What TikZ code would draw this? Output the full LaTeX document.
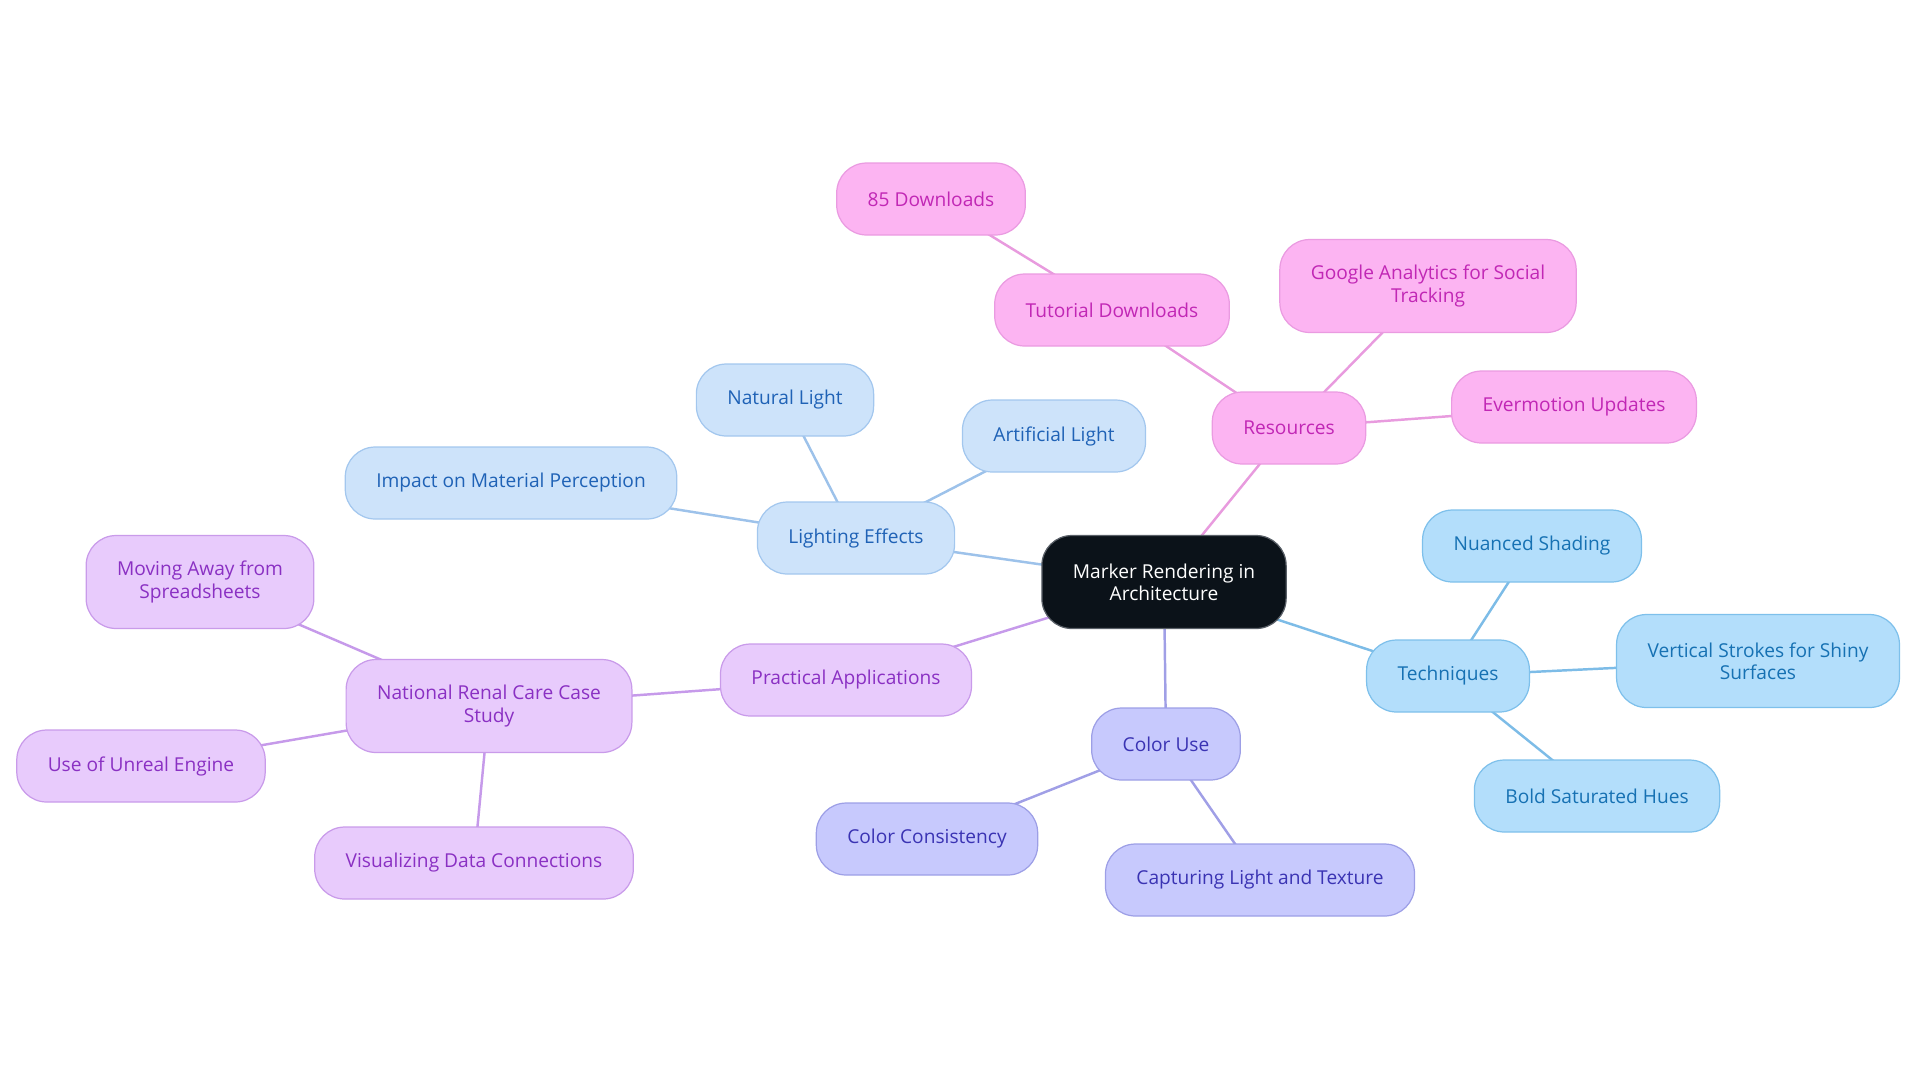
\documentclass[tikz,border=0pt]{standalone}
\usepackage{fontspec}
\setmainfont{Open Sans}
\usepackage{xcolor}
\usetikzlibrary{backgrounds}

% colour sets of the branches
\definecolor{rootF}{HTML}{0B1219}
\definecolor{rootD}{HTML}{5A6068}
\definecolor{pinkF}{HTML}{FCB4F2}
\definecolor{pinkD}{HTML}{EA9BE1}
\definecolor{pinkT}{HTML}{C127B5}
\definecolor{pinkL}{HTML}{E89BDE}
\definecolor{paleF}{HTML}{CDE3FA}
\definecolor{paleD}{HTML}{A3C7EE}
\definecolor{paleT}{HTML}{1F62B6}
\definecolor{paleL}{HTML}{9DC2EA}
\definecolor{skyF}{HTML}{B3DEFB}
\definecolor{skyD}{HTML}{7EC0EB}
\definecolor{skyT}{HTML}{1671B3}
\definecolor{skyL}{HTML}{7DBCE7}
\definecolor{lavF}{HTML}{C7C9FD}
\definecolor{lavD}{HTML}{9D9FE6}
\definecolor{lavT}{HTML}{3A33B3}
\definecolor{lavL}{HTML}{A09FE6}
\definecolor{violF}{HTML}{E8CBFC}
\definecolor{violD}{HTML}{C99BEA}
\definecolor{violT}{HTML}{8A30C3}
\definecolor{violL}{HTML}{C69AEA}

\tikzset{
  mapnode/.style={rounded corners=0.6cm, minimum height=1.44cm, inner xsep=0.62cm,
    align=center, font=\fontsize{10.9}{12.6}\selectfont, line width=0.7pt},
  twoline/.style={minimum height=1.86cm},
  rootnode/.style={mapnode, fill=rootF, draw=rootD, text=white},
  pinknode/.style={mapnode, fill=pinkF, draw=pinkD, text=pinkT},
  palenode/.style={mapnode, fill=paleF, draw=paleD, text=paleT},
  skynode/.style={mapnode, fill=skyF, draw=skyD, text=skyT},
  lavnode/.style={mapnode, fill=lavF, draw=lavD, text=lavT},
  violnode/.style={mapnode, fill=violF, draw=violD, text=violT},
  link/.style={line width=1.4pt}
}

\begin{document}
\begin{tikzpicture}[x=0.02cm, y=-0.02cm]
  \useasboundingbox (0,0) rectangle (1920,1083);

  % ── centre ──
  \node[rootnode, twoline] (root) at (1164,582) {Marker Rendering in\\Architecture};

  % ── Resources branch ──
  \node[pinknode] (res)   at (1289,428) {Resources};
  \node[pinknode] (tut)   at (1112,310) {Tutorial Downloads};
  \node[pinknode] (dl)    at (931,199)  {85 Downloads};
  \node[pinknode, twoline] (ga) at (1428,286) {Google Analytics for Social\\Tracking};
  \node[pinknode] (ever)  at (1574,407) {Evermotion Updates};

  % ── Lighting branch ──
  \node[palenode] (light) at (856,538)  {Lighting Effects};
  \node[palenode] (nat)   at (785,400)  {Natural Light};
  \node[palenode] (art)   at (1054,436) {Artificial Light};
  \node[palenode] (imp)   at (511,483)  {Impact on Material Perception};

  % ── Techniques branch ──
  \node[skynode] (tech)   at (1448,676) {Techniques};
  \node[skynode] (shade)  at (1532,546) {Nuanced Shading};
  \node[skynode, twoline] (vert) at (1758,661) {Vertical Strokes for Shiny\\Surfaces};
  \node[skynode] (bold)   at (1597,796) {Bold Saturated Hues};

  % ── Colour branch ──
  \node[lavnode] (col)    at (1166,744) {Color Use};
  \node[lavnode] (cons)   at (927,839)  {Color Consistency};
  \node[lavnode] (capt)   at (1260,880) {Capturing Light and Texture};

  % ── Applications branch ──
  \node[violnode] (prac)  at (846,680)  {Practical Applications};
  \node[violnode, twoline] (renal) at (489,706) {National Renal Care Case\\Study};
  \node[violnode, twoline] (move)  at (200,582) {Moving Away from\\Spreadsheets};
  \node[violnode] (unreal) at (141,766) {Use of Unreal Engine};
  \node[violnode] (vis)   at (474,863)  {Visualizing Data Connections};

  % links behind the boxes
  \begin{pgfonlayer}{background}
    \foreach \a/\b/\c in {root/res/pinkL, res/tut/pinkL, tut/dl/pinkL, res/ga/pinkL, res/ever/pinkL,
        root/light/paleL, light/nat/paleL, light/art/paleL, light/imp/paleL,
        root/tech/skyL, tech/shade/skyL, tech/vert/skyL, tech/bold/skyL,
        root/col/lavL, col/cons/lavL, col/capt/lavL,
        root/prac/violL, prac/renal/violL, renal/move/violL, renal/unreal/violL, renal/vis/violL}
      \draw[link, \c] (\a.center) -- (\b.center);
  \end{pgfonlayer}
\end{tikzpicture}
\end{document}
